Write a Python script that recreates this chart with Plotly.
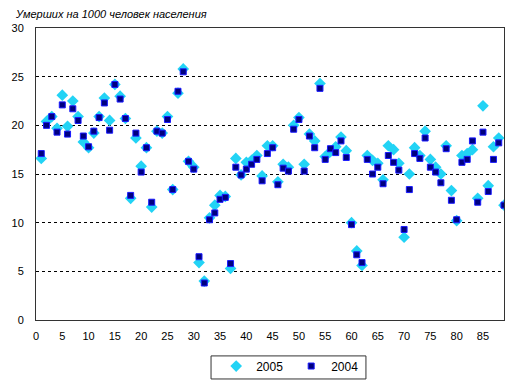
import plotly.graph_objects as go

ages = list(range(1, 90))
y2005 = [16.6, 20.4, 20.9, 19.7, 23.1, 19.9, 22.5, 20.9, 18.3, 17.7,
         19.2, 20.9, 22.8, 20.5, 24.2, 23.0, 20.7, 12.5, 18.7, 15.8,
         17.7, 11.6, 19.4, 19.2, 20.9, 13.4, 23.3, 25.8, 16.3, 15.7,
         5.9, 4.0, 10.5, 11.8, 12.8, 12.7, 5.3, 16.6, 14.9, 16.2,
         16.4, 16.9, 14.8, 17.9, 17.9, 14.2, 16.0, 15.7, 20.0, 20.8,
         16.0, 19.1, 18.4, 24.3, 16.8, 17.3, 17.8, 18.8, 17.4, 10.0,
         7.1, 5.6, 16.9, 16.4, 16.1, 14.4, 17.9, 17.5, 16.1, 8.5,
         15.0, 17.7, 16.9, 19.4, 16.5, 15.7, 15.0, 17.9, 13.3, 10.2,
         16.9, 17.1, 17.5, 12.5, 22.0, 13.8, 17.8, 18.7, 11.8]
y2004 = [17.1, 20.0, 20.9, 19.3, 22.1, 19.1, 21.7, 20.5, 18.9, 17.8,
         19.4, 20.8, 22.3, 19.5, 24.2, 22.7, 20.7, 12.8, 19.2, 15.2,
         17.7, 12.1, 19.4, 19.2, 20.6, 13.4, 23.5, 25.5, 16.3, 15.5,
         6.5, 3.8, 10.3, 11.0, 12.4, 12.6, 5.8, 15.7, 14.9, 15.5,
         16.0, 16.5, 14.3, 17.1, 17.7, 13.9, 15.6, 15.3, 19.6, 20.6,
         15.3, 18.9, 17.7, 23.8, 16.5, 17.6, 17.2, 18.4, 16.7, 9.8,
         6.7, 5.9, 16.5, 15.0, 15.7, 14.0, 16.9, 16.2, 15.4, 9.3,
         13.4, 17.1, 16.6, 18.7, 15.7, 15.2, 14.1, 17.6, 12.3, 10.3,
         16.2, 16.5, 18.4, 12.1, 19.3, 13.2, 16.5, 18.2, 11.8]

x_ticks = list(range(0, 90, 5))
y_ticks = list(range(0, 31, 5))
title_text = "Умерших на 1000 человек населения"

fig = go.Figure()
fig.add_trace(go.Scatter(
    x=ages, y=y2005, mode="markers", name="2005",
    marker=dict(symbol="diamond", size=9, color="#22d3f5", line=dict(width=0))))
fig.add_trace(go.Scatter(
    x=ages, y=y2004, mode="markers", name="2004",
    marker=dict(symbol="square", size=6, color="#000080",
                line=dict(width=1, color="#1a1aff"))))

font = dict(family="Liberation Sans, Arial, sans-serif", size=11, color="black")

fig.update_layout(
    width=520, height=379,
    margin=dict(l=28, r=24, t=20, b=67, autoexpand=False),
    paper_bgcolor="white", plot_bgcolor="white",
    font=font,
    showlegend=True,
    legend=dict(orientation="h", x=0.385, xanchor="left", y=-0.108, yanchor="top",
                bgcolor="rgba(0,0,0,0)", borderwidth=0, font=dict(size=12),
                itemwidth=30, entrywidth=30, tracegroupgap=0),
    shapes=[dict(type="rect", xref="paper", yref="paper",
                 x0=0.374, x1=0.705, y0=-0.202, y1=-0.123,
                 line=dict(color="#333333", width=1), fillcolor="rgba(0,0,0,0)")],
    annotations=[dict(text="<i>" + title_text + "</i>", xref="paper", yref="paper",
                      x=-0.049, y=1.048, xanchor="left", yanchor="middle",
                      showarrow=False, font=dict(size=11))],
)
fig.update_xaxes(range=[0, 89], tickvals=x_ticks, ticktext=[str(v) for v in x_ticks],
                 showgrid=False, zeroline=False, showline=True, mirror=True,
                 linecolor="#333333", linewidth=1, ticks="", ticklabelstandoff=6,
                 automargin=False)
fig.update_yaxes(range=[0, 30], tickvals=y_ticks, ticktext=[str(v) for v in y_ticks],
                 showgrid=True, gridcolor="black", griddash="3px,3px", gridwidth=1,
                 zeroline=False, showline=True, mirror=True,
                 linecolor="#333333", linewidth=1, ticks="", ticklabelstandoff=9,
                 automargin=False)

fig.write_html("out.html")
